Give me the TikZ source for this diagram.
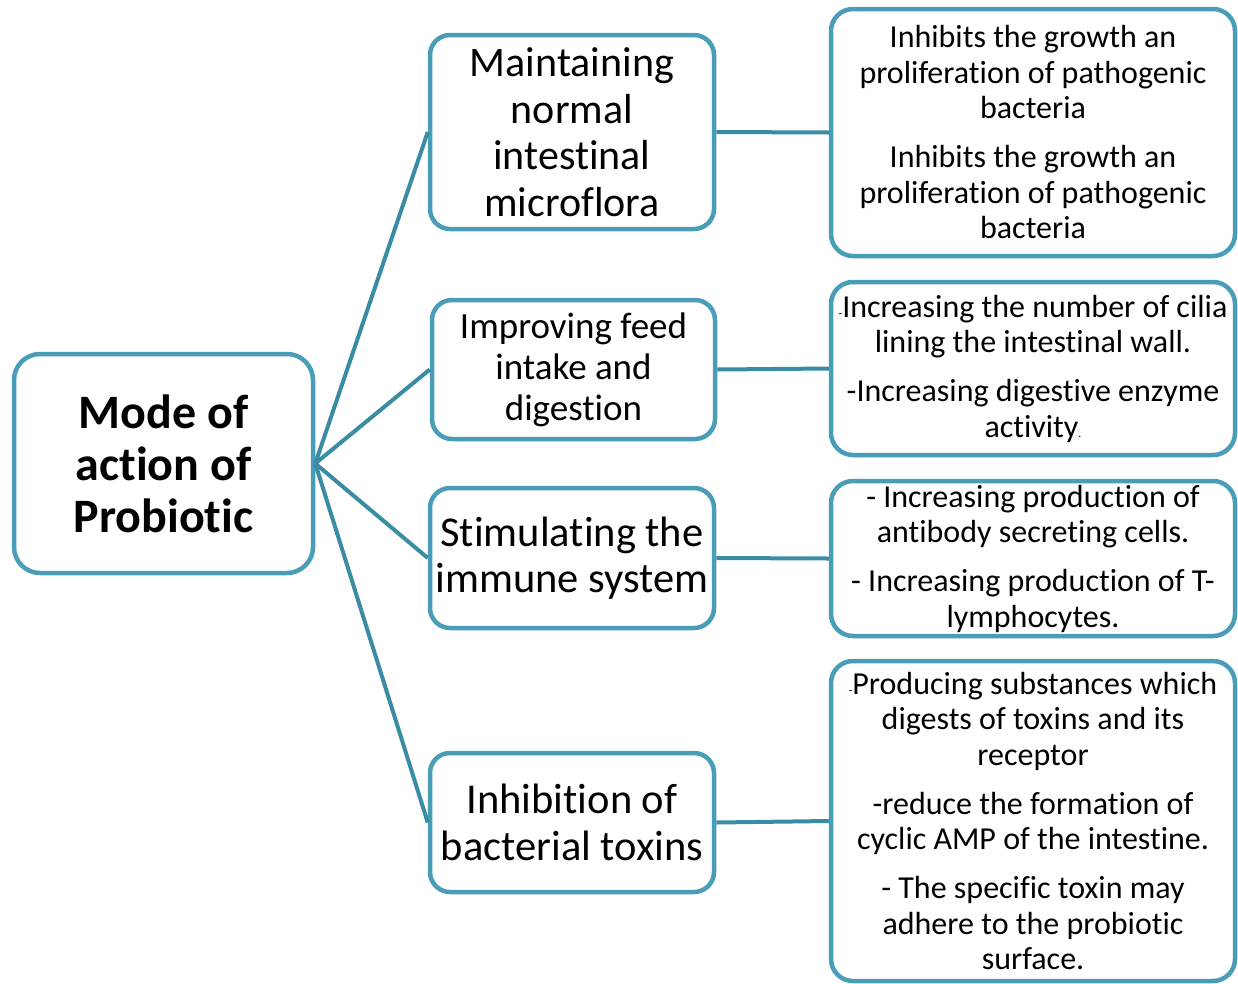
\documentclass[tikz,border=0pt]{standalone}
\usepackage{fontspec}
\setmainfont{Carlito}[Ligatures={NoCommon}]
\definecolor{bord}{RGB}{74,157,183}
\definecolor{conn}{RGB}{58,140,162}
\begin{document}
\begin{tikzpicture}[x=1pt,y=-1pt,
  box/.style={draw=bord, line width=4.5pt, rounded corners=22pt, fill=white, align=center, inner sep=0pt},
  midbox/.style={box, rounded corners=20pt, minimum width=284pt},
  rbox/.style={box, minimum width=404pt, font=\fontsize{32}{35.5}\selectfont},
  link/.style={draw=conn, line width=4pt}]
\useasboundingbox (0,0) rectangle (1238,983);
\node[box, rounded corners=26pt, minimum width=299pt, minimum height=219pt,
  font=\fontsize{48}{52}\selectfont\bfseries] (root) at (163.5,463.5) {Mode of\\action of\\Probiotic};
\node[midbox, minimum height=194pt, font=\fontsize{42}{46.5}\selectfont] (A) at (572,132) {Maintaining\\normal\\intestinal\\microflora};
\node[midbox, minimum width=283pt, minimum height=139pt, font=\fontsize{37}{41}\selectfont] (B) at (573.5,369.5) {Improving feed\\intake and\\digestion};
\node[midbox, minimum height=140pt, font=\fontsize{42.5}{46}\selectfont] (C) at (572,558) {Stimulating the\\immune system};
\node[midbox, minimum height=139pt, font=\fontsize{42.5}{47}\selectfont] (D) at (572,822.5) {Inhibition of\\bacterial toxins};
\node[rbox, minimum height=247pt] (R1) at (1033,132.5) {Inhibits the growth an\\proliferation of pathogenic\\bacteria\\[13.5pt]Inhibits the growth an\\proliferation of pathogenic\\bacteria};
\node[rbox, minimum height=173pt] (R2) at (1033,368.5) {{\fontsize{12}{12}\selectfont -}Increasing the number of cilia\\lining the intestinal wall.\\[13.5pt]-Increasing digestive enzyme\\activity{\fontsize{12}{12}\selectfont .}};
\node[rbox, minimum height=155pt] (R3) at (1033,558.5) {- Increasing production of\\antibody secreting cells.\\[13.5pt]- Increasing production of T-\\lymphocytes.};
\node[rbox, minimum height=320pt] (R4) at (1033,821) {{\fontsize{12}{12}\selectfont -}Producing substances which\\digests of toxins and its\\receptor\\[13.5pt]-reduce the formation of\\cyclic AMP of the intestine.\\[13.5pt]- The specific toxin may\\adhere to the probiotic\\surface.};
\draw[link] (root.east) -- (A.west);
\draw[link] (root.east) -- (B.west);
\draw[link] (root.east) -- (C.west);
\draw[link] (root.east) -- (D.west);
\draw[link] (A.east) -- (R1.west);
\draw[link] (B.east) -- (R2.west);
\draw[link] (C.east) -- (R3.west);
\draw[link] (D.east) -- (R4.west);
\end{tikzpicture}
\end{document}
